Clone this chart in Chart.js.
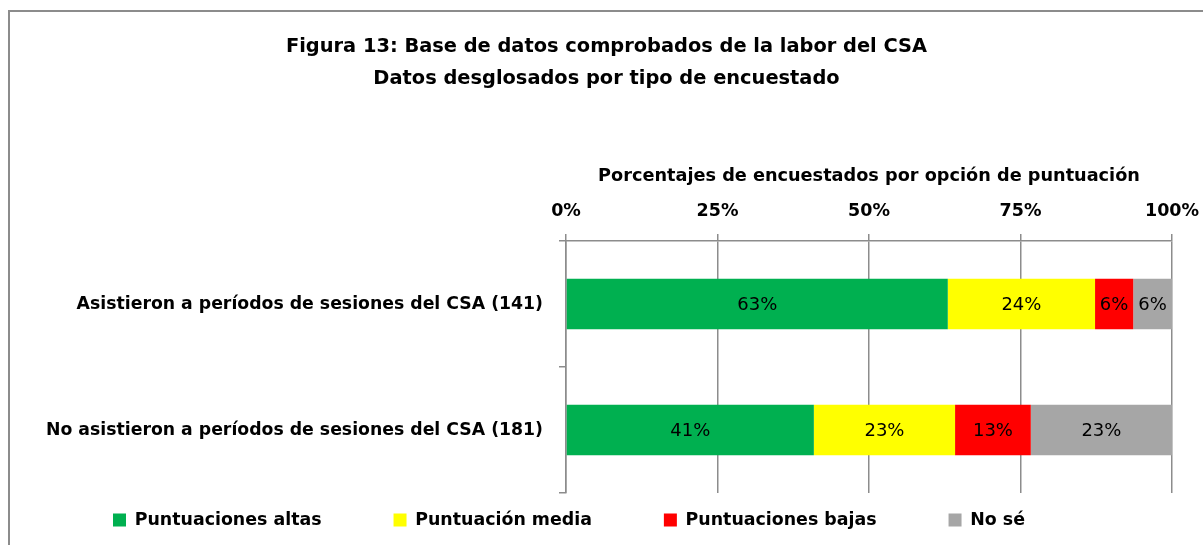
<!DOCTYPE html>
<html>
<head>
<meta charset="utf-8">
<title>Figura 13</title>
<script src="https://cdn.jsdelivr.net/npm/chart.js@4.4.0/dist/chart.umd.min.js"></script>
<style>
body { margin: 0; overflow: hidden; background: #fff; }
#marco { position: absolute; left: 8px; top: 10px; width: 1300px; height: 600px; border: 2px solid #8c8c8c; }
#wrap { position: absolute; left: 0; top: 0; width: 1203px; height: 545px; }
</style>
</head>
<body>
<div id="marco"></div>
<div id="wrap"><canvas id="myChart" width="1203" height="545"></canvas></div>
<script>
var grupos = ['Asistieron a períodos de sesiones del CSA (141)', 'No asistieron a períodos de sesiones del CSA (181)'];
var series = ['Puntuaciones altas', 'Puntuación media', 'Puntuaciones bajas', 'No sé'];
var altas = [63.0, 40.9];
var media = [24.3, 23.3];
var bajas = [6.3, 12.5];
var nose = [6.4, 23.3];
var colores = ['#00B050', '#FFFF00', '#FF0000', '#A6A6A6'];
var ticksX = ['0%', '25%', '50%', '75%', '100%'];

var gris = '#8c8c8c';
var fuente = '"DejaVu Sans"';

// etiquetas dentro de las barras
var etiquetas = {
	id: 'etiquetas',
	afterDatasetsDraw: function(chart) {
		var ctx = chart.ctx;
		ctx.save();
		ctx.font = '18px ' + fuente;
		ctx.fillStyle = '#000';
		ctx.textAlign = 'center';
		ctx.textBaseline = 'middle';
		chart.data.datasets.forEach(function(ds, i) {
			chart.getDatasetMeta(i).data.forEach(function(bar, j) {
				var p = bar.getProps(['x', 'y', 'base'], true);
				ctx.fillText(Math.round(ds.data[j]) + '%', (p.x + p.base) / 2, p.y + 1);
			});
		});
		ctx.restore();
	}
};

var ctx = document.getElementById('myChart').getContext('2d');
var grafico = new Chart(ctx, {
	type: 'bar',
	data: {
		labels: grupos,
		datasets: [
			{ label: series[0], data: altas, backgroundColor: colores[0] },
			{ label: series[1], data: media, backgroundColor: colores[1] },
			{ label: series[2], data: bajas, backgroundColor: colores[2] },
			{ label: series[3], data: nose, backgroundColor: colores[3] }
		]
	},
	options: {
		indexAxis: 'y',
		responsive: false,
		animation: false,
		datasets: {
			bar: { barPercentage: 0.4, categoryPercentage: 1, borderWidth: 0 }
		},
		layout: { padding: { left: 41, right: 31, top: 0, bottom: 6.3 } },
		scales: {
			x: {
				position: 'top',
				stacked: true,
				min: 0,
				max: 100,
				afterFit: function(scale) { scale.paddingLeft = 0; scale.paddingRight = 0; },
				ticks: {
					stepSize: 25,
					padding: 12.5,
					color: '#000',
					font: { family: fuente, size: 17.5, weight: 'bold' },
					callback: function(v, i) { return ticksX[i]; }
				},
				grid: { color: gris, lineWidth: 1.5, tickLength: 7 },
				border: { color: gris, width: 1.5 },
				title: {
					display: true,
					text: 'Porcentajes de encuestados por opción de puntuación',
					color: '#000',
					font: { family: fuente, size: 17.7, weight: 'bold' },
					padding: { top: 0, bottom: 1.4 }
				}
			},
			y: {
				stacked: true,
				afterFit: function(scale) { scale.width = 525; },
				ticks: {
					padding: 16,
					color: '#000',
					font: { family: fuente, size: 17.3, weight: 'bold' }
				},
				grid: { offset: true, drawOnChartArea: false, color: gris, lineWidth: 1.5, tickLength: 7 },
				border: { color: gris, width: 1.5 }
			}
		},
		plugins: {
			title: {
				display: true,
				text: ['Figura 13: Base de datos comprobados de la labor del CSA', 'Datos desglosados por tipo de encuestado'],
				color: '#000',
				font: { family: fuente, size: 19.4, weight: 'bold', lineHeight: 32 / 19.4 },
				padding: { top: 31, bottom: 70.4 }
			},
			legend: {
				position: 'bottom',
				align: 'start',
				labels: {
					boxWidth: 13,
					boxHeight: 13,
					padding: 72,
					color: '#000',
					font: { family: fuente, size: 17.4, weight: 'bold' }
				},
				// titulo vacio con margen negativo: deja la separacion horizontal grande sin bajar la leyenda
				title: {
					display: true,
					text: '',
					font: { size: 10, lineHeight: 1 },
					padding: { top: -63.7, bottom: 0 }
				}
			},
			tooltip: { enabled: false }
		}
	},
	plugins: [etiquetas]
});
</script>
</body>
</html>
